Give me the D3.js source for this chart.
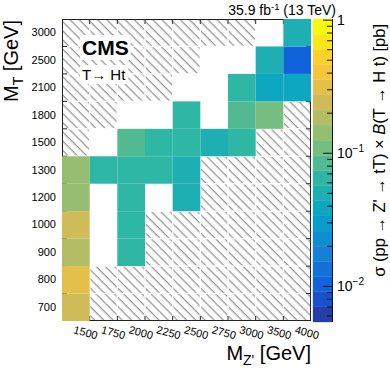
<!DOCTYPE html>
<html>
<head>
<meta charset="utf-8">
<script src="https://cdn.jsdelivr.net/npm/d3@7"></script>
<style>
  body { margin: 0; background: #fff; }
  svg { display: block; font-family: "Liberation Sans", Arial, Helvetica, sans-serif; }
</style>
</head>
<body>
<svg id="chart" width="390" height="379"></svg>
<script>
/*** DATA ***/

// x categories: Z' mass, y categories: T mass (bottom to top)
const mzpMasses = ["1500", "1750", "2000", "2250", "2500", "2750", "3000", "3500", "4000"];
const mtMasses  = ["700", "800", "900", "1000", "1200", "1300", "1500", "1800", "2100", "2500", "3000"];

// limit in pb per (M_T row, M_Z' column), null = no value
const limits = [
  [0.24, null, null,  null,  null,  null,  null,  null,  null ],  // 700
  [0.31, null, null,  null,  null,  null,  null,  null,  null ],  // 800
  [0.18, null, 0.064, null,  null,  null,  null,  null,  null ],  // 900
  [0.24, null, 0.064, null,  null,  null,  null,  null,  null ],  // 1000
  [0.14, null, 0.064, null,  0.049, null,  null,  null,  null ],  // 1200
  [0.14, 0.064, 0.064, 0.062, 0.049, null, null,  null,  null ],  // 1300
  [null, null, 0.084, 0.064, 0.064, 0.049, 0.066, null,  null ],  // 1500
  [null, null, null,  null,  0.064, null,  0.085, 0.11,  null ],  // 1800
  [null, null, null,  null,  null,  null,  0.058, 0.038, 0.038],  // 2100
  [null, null, null,  null,  null,  null,  null,  0.055, 0.010],  // 2500
  [null, null, null,  null,  null,  null,  null,  null,  0.055]   // 3000
];

// 1 = hatched (not probed)
const hatchMask = [
  "011111111",  // 700
  "011111111",  // 800
  "000111111",  // 900
  "000111111",  // 1000
  "000001111",  // 1200
  "000001111",  // 1300
  "100000011",  // 1500
  "110000001",  // 1800
  "111100000",  // 2100
  "111110000",  // 2500
  "111111100"   // 3000
];

// colour bar ticks
const zMajor = [1, 0.1, 0.01];
const zMajorLabels = [["1", ""], ["10", "\u22121"], ["10", "\u22122"]];

/*** LAYOUT ***/

let plot = {left: 62, right: 311, top: 19, bottom: 321};
let zbar = {left: 313, right: 332, top: 19, bottom: 322};
let zMin = 0.0054, zMax = 1.02, nContours = 20;

let svg = d3.select("#chart");

let x = d3.scaleBand().domain(mzpMasses).range([plot.left, plot.right]),
    y = d3.scaleBand().domain(mtMasses).range([plot.bottom, plot.top]),
    z = d3.scaleLog().domain([zMin, zMax]).range([zbar.bottom, zbar.top]);

// ROOT kBird palette
let birdStops = [0, 0.125, 0.25, 0.375, 0.5, 0.625, 0.75, 0.875, 1];
let birdCols = [
  [0.2082, 0.1664, 0.5293], [0.0592, 0.3599, 0.8684], [0.0780, 0.5041, 0.8385],
  [0.0232, 0.6419, 0.7914], [0.1802, 0.7178, 0.6425], [0.5301, 0.7492, 0.4662],
  [0.8186, 0.7328, 0.3499], [0.9956, 0.7862, 0.1968], [0.9764, 0.9832, 0.0539]
].map(c => d3.rgb(c[0] * 255, c[1] * 255, c[2] * 255));
let bird = d3.scaleLinear().domain(birdStops).range(birdCols).interpolate(d3.interpolateRgb).clamp(true);

let lmin = Math.log10(zMin), lmax = Math.log10(zMax), lstep = (lmax - lmin) / nContours;

function bandColor(b) {
  return bird(Math.min(1, (b + 0.99) / nContours));
}
function cellColor(v) {
  let b = Math.floor((Math.log10(v) - lmin) / lstep);
  b = Math.max(0, Math.min(nContours - 1, b));
  return bandColor(b);
}

/*** HATCH PATTERN ***/

let defs = svg.append("defs");
let pat = defs.append("pattern")
    .attr("id", "hatch")
    .attr("patternUnits", "userSpaceOnUse")
    .attr("width", 6.5).attr("height", 6.5)
    .attr("patternTransform", "rotate(-45)");
pat.append("line")
    .attr("x1", 3).attr("y1", 0).attr("x2", 3).attr("y2", 6.5)
    .attr("stroke", "#7a7a7a").attr("stroke-width", 1);

/*** CELLS ***/

let cells = [];
mtMasses.forEach((mt, r) => {
  mzpMasses.forEach((mz, c) => {
    cells.push({mt: mt, mz: mz, v: limits[r][c], hatched: hatchMask[r][c] === "1"});
  });
});

// hatched cells
svg.append("g").selectAll("rect")
  .data(cells.filter(d => d.hatched))
  .join("rect")
    .attr("x", d => x(d.mz) + 0.7)
    .attr("y", d => y(d.mt) + 0.7)
    .attr("width", x.bandwidth() - 1.4)
    .attr("height", y.bandwidth() - 1.4)
    .attr("fill", "url(#hatch)");

// frame and ticks
let frame = svg.append("g").attr("stroke", "#222").attr("fill", "none");
frame.append("rect")
    .attr("x", plot.left + 0.5).attr("y", plot.top + 0.5)
    .attr("width", plot.right - plot.left - 1).attr("height", plot.bottom - plot.top - 1);

let xEdges = mzpMasses.slice(1).map(d => x(d)),
    yEdges = mtMasses.slice(1).map(d => y(d) + y.bandwidth());
xEdges.forEach(e => {
  frame.append("line").attr("x1", e).attr("x2", e).attr("y1", plot.bottom).attr("y2", plot.bottom - 5);
  frame.append("line").attr("x1", e).attr("x2", e).attr("y1", plot.top).attr("y2", plot.top + 5);
});
yEdges.forEach(e => {
  frame.append("line").attr("x1", plot.left).attr("x2", plot.left + 5).attr("y1", e).attr("y2", e);
  frame.append("line").attr("x1", plot.right).attr("x2", plot.right - 5).attr("y1", e).attr("y2", e);
});

// coloured cells
svg.append("g").selectAll("rect")
  .data(cells.filter(d => d.v !== null))
  .join("rect")
    .attr("x", d => x(d.mz))
    .attr("y", d => y(d.mt))
    .attr("width", x.bandwidth())
    .attr("height", y.bandwidth())
    .attr("fill", d => cellColor(d.v));

/*** AXES ***/

let yAxis = svg.append("g")
    .attr("transform", `translate(${plot.left},0)`)
    .call(d3.axisLeft(y).tickSize(0).tickPadding(6));
yAxis.select(".domain").remove();
yAxis.selectAll("text").attr("font-size", 11).attr("font-family", null).attr("fill", "#000");

let xAxis = svg.append("g")
    .attr("transform", `translate(0,${plot.bottom})`)
    .call(d3.axisBottom(x).tickSize(0).tickPadding(0));
xAxis.select(".domain").remove();
xAxis.selectAll("text")
    .attr("font-size", 11).attr("font-family", null).attr("fill", "#000")
    .attr("text-anchor", "start")
    .attr("dy", 0).attr("y", 0)
    .attr("transform", "translate(-3,12) rotate(15)");

// axis titles
let yt = svg.append("text")
    .attr("transform", "translate(18,20) rotate(-90)")
    .attr("text-anchor", "end")
    .attr("font-size", 20);
yt.append("tspan").text("M");
yt.append("tspan").attr("font-size", 14).attr("dy", 5).text("T");
yt.append("tspan").attr("dy", -5).text(" [GeV]");

let xt = svg.append("text")
    .attr("x", plot.right).attr("y", 360)
    .attr("text-anchor", "end")
    .attr("font-size", 20);
xt.append("tspan").text("M");
xt.append("tspan").attr("font-size", 14).attr("dy", 5).text("Z'");
xt.append("tspan").attr("dy", -5).text(" [GeV]");

/*** COLOUR BAR ***/

let bar = svg.append("g");
bar.selectAll("rect")
  .data(d3.range(nContours))
  .join("rect")
    .attr("x", zbar.left)
    .attr("width", zbar.right - zbar.left)
    .attr("y", b => z(Math.pow(10, lmin + (b + 1) * lstep)))
    .attr("height", b => z(Math.pow(10, lmin + b * lstep)) - z(Math.pow(10, lmin + (b + 1) * lstep)))
    .attr("fill", b => bandColor(b))
    .attr("stroke", b => bandColor(b)).attr("stroke-width", 0.3);

bar.append("line")
    .attr("x1", zbar.right + 0.5).attr("x2", zbar.right + 0.5)
    .attr("y1", zbar.top).attr("y2", zbar.bottom)
    .attr("stroke", "#111");

let minors = [];
[0.001, 0.01, 0.1].forEach(dec => {
  for (let k = 2; k <= 9; k++) {
    let v = dec * k;
    if (v > zMin && v < zMax) minors.push(v);
  }
});
bar.selectAll(".minor")
  .data(minors)
  .join("line")
    .attr("x1", zbar.right).attr("x2", zbar.right - 5)
    .attr("y1", d => z(d)).attr("y2", d => z(d))
    .attr("stroke", "#111");
bar.selectAll(".major")
  .data(zMajor)
  .join("line")
    .attr("x1", zbar.right).attr("x2", zbar.right - 9)
    .attr("y1", d => z(d)).attr("y2", d => z(d))
    .attr("stroke", "#111");

zMajor.forEach((v, i) => {
  let t = bar.append("text")
      .attr("x", zbar.right + 5).attr("y", z(v) + 5)
      .attr("font-size", 14);
  t.append("tspan").text(zMajorLabels[i][0]);
  if (zMajorLabels[i][1]) t.append("tspan").attr("font-size", 10).attr("dy", -6).text(zMajorLabels[i][1]);
});

// z title
let zt = svg.append("text")
    .attr("transform", "translate(385,24) rotate(-90)")
    .attr("text-anchor", "end")
    .attr("font-size", 16.5);
zt.append("tspan").text("\u03c3 (pp \u2192 Z' \u2192 tT) \u00d7 ");
zt.append("tspan").attr("font-style", "italic").text("B");
zt.append("tspan").text("(T \u2192 H t) [pb]");

/*** LABELS ***/

let lumi = svg.append("text")
    .attr("x", 336).attr("y", 15)
    .attr("text-anchor", "end")
    .attr("font-size", 14);
lumi.append("tspan").text("35.9 fb");
lumi.append("tspan").attr("font-size", 9.5).attr("dy", -5).text("-1");
lumi.append("tspan").attr("dy", 5).text(" (13 TeV)");

let cms = svg.append("text")
    .attr("x", 82).attr("y", 55)
    .attr("font-size", 21).attr("font-weight", "bold")
    .text("CMS");
let chan = svg.append("text")
    .attr("x", 82).attr("y", 80)
    .attr("font-size", 15)
    .text("T\u2192 Ht");

// white boxes behind the labels
[cms, chan].forEach(t => {
  let bb = t.node().getBBox();
  svg.insert("rect", () => t.node())
      .attr("x", bb.x - 2).attr("y", bb.y - 1)
      .attr("width", bb.width + 4).attr("height", bb.height + 2)
      .attr("fill", "#fff");
});
</script>
</body>
</html>
